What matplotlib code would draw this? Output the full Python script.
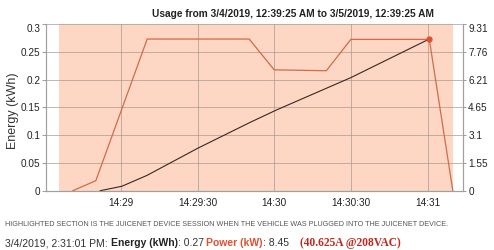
import matplotlib
matplotlib.use("Agg")
from matplotlib import pyplot as plt

plt.rcParams['font.family'] = ['Liberation Sans', 'DejaVu Sans']

# seconds relative to 14:29:00
power_t = [-18.8, -9.8, 10.3, 50.2, 60.0, 80.4, 90.0, 120.7, 129.9]
power_kw = [0, 0.56, 8.47, 8.47, 6.75, 6.70, 8.45, 8.45, 0]

energy_t = [-8.1, 0.4, 10.2, 30.2, 50.6, 61.0, 90.0, 120.7]
energy_kwh = [0, 0.008, 0.0275, 0.0767, 0.123, 0.1455, 0.2035, 0.273]

session_start, session_end = -24.3, 130.0

x_ticks = [0, 30, 60, 90, 120]
x_labels = ["14:29", "14:29:30", "14:30", "14:30:30", "14:31"]
e_ticks = [0, 0.05, 0.1, 0.15, 0.2, 0.25, 0.3]
e_labels = ["0", "0.05", "0.1", "0.15", "0.2", "0.25", "0.3"]
p_ticks = [0, 1.55, 3.1, 4.65, 6.21, 7.76, 9.31]
p_labels = ["0", "1.55", "3.1", "4.65", "6.21", "7.76", "9.31"]

title = "Usage from 3/4/2019, 12:39:25 AM to 3/5/2019, 12:39:25 AM"
note = ("HIGHLIGHTED SECTION IS THE JUICENET DEVICE SESSION WHEN THE VEHICLE "
        "WAS PLUGGED INTO THE JUICENET DEVICE.")

shade = '#fdd6c4'
power_col = '#cf6c4a'
grid_col = '#a89890'
axis_col = '#a0a0a0'

fig = plt.figure(figsize=(4.94, 2.5), dpi=100)
ax = fig.add_axes([46 / 494, 1 - 190.7 / 250, (463.3 - 46) / 494, (190.7 - 24) / 250])
ax2 = ax.twinx()

ax.axvspan(session_start, session_end, color=shade, lw=0, zorder=0)
ax.plot(energy_t, energy_kwh, color='#3b2620', lw=0.8, zorder=3)
ax2.plot(power_t, power_kw, color=power_col, lw=0.9, zorder=3)
ax2.plot(power_t[7], power_kw[7], 'o', color='#e0502f', ms=3.5, zorder=4)

ax.set_xlim(-29.3, 134.0)
ax.set_ylim(0, 0.3)
ax2.set_ylim(0, 9.31)

ax.set_xticks(x_ticks)
ax.set_xticklabels(x_labels)
ax.set_yticks(e_ticks)
ax.set_yticklabels(e_labels)
ax2.set_yticks(p_ticks)
ax2.set_yticklabels(p_labels)

ax.grid(True, color=grid_col, lw=0.7, alpha=0.7)
ax.set_axisbelow(False)
for a in (ax, ax2):
    for s in a.spines.values():
        s.set_color(axis_col)
        s.set_linewidth(0.8)
    a.spines['top'].set_visible(False)
ax.tick_params(axis='x', length=0, pad=5, labelsize=7.2, labelcolor='#222')
ax.tick_params(axis='y', length=3, width=0.7, color=grid_col, pad=1,
               labelsize=7.2, labelcolor='#222')
ax2.tick_params(axis='y', length=2, width=0.7, color=grid_col, pad=1.5,
                labelsize=7.2, labelcolor='#222')
ax.get_yticklabels()[-1].set_va('top')
ax2.get_yticklabels()[-1].set_va('top')
ax.set_ylabel("Energy (kWh)", fontsize=9.0, color='#333', va='center')
ax.yaxis.set_label_coords(-0.078, 0.478)

fig.text(293 / 494, 1 - 14 / 250, title, ha='center', va='center',
         fontsize=7.25, fontweight='bold', color='#222')
fig.text(5 / 494, 1 - 225 / 250, note, ha='left', va='center',
         fontsize=5.2, color='#555')

# footer line with mixed styles
fig.canvas.draw()
renderer = fig.canvas.get_renderer()
pieces = [
    ("3/4/2019, 2:31:01 PM: ", dict(color='#333', fontsize=7.5)),
    ("Energy (kWh)", dict(color='#222', fontweight='bold', fontsize=7.5)),
    (": 0.27 ", dict(color='#333', fontsize=7.5)),
    ("Power (kW)", dict(color='#e0502f', fontweight='bold', fontsize=7.5)),
    (": 8.45    ", dict(color='#333', fontsize=7.5)),
    ("(40.625A @208VAC)", dict(color='#c0281c', fontweight='bold',
                               family='Liberation Serif', fontsize=8.3)),
]
x = 5
for txt, kw in pieces:
    t = fig.text(x / 494, 1 - 243 / 250, txt, ha='left', va='center', **kw)
    x += t.get_window_extent(renderer).width

fig.savefig("out.png", dpi=100)
